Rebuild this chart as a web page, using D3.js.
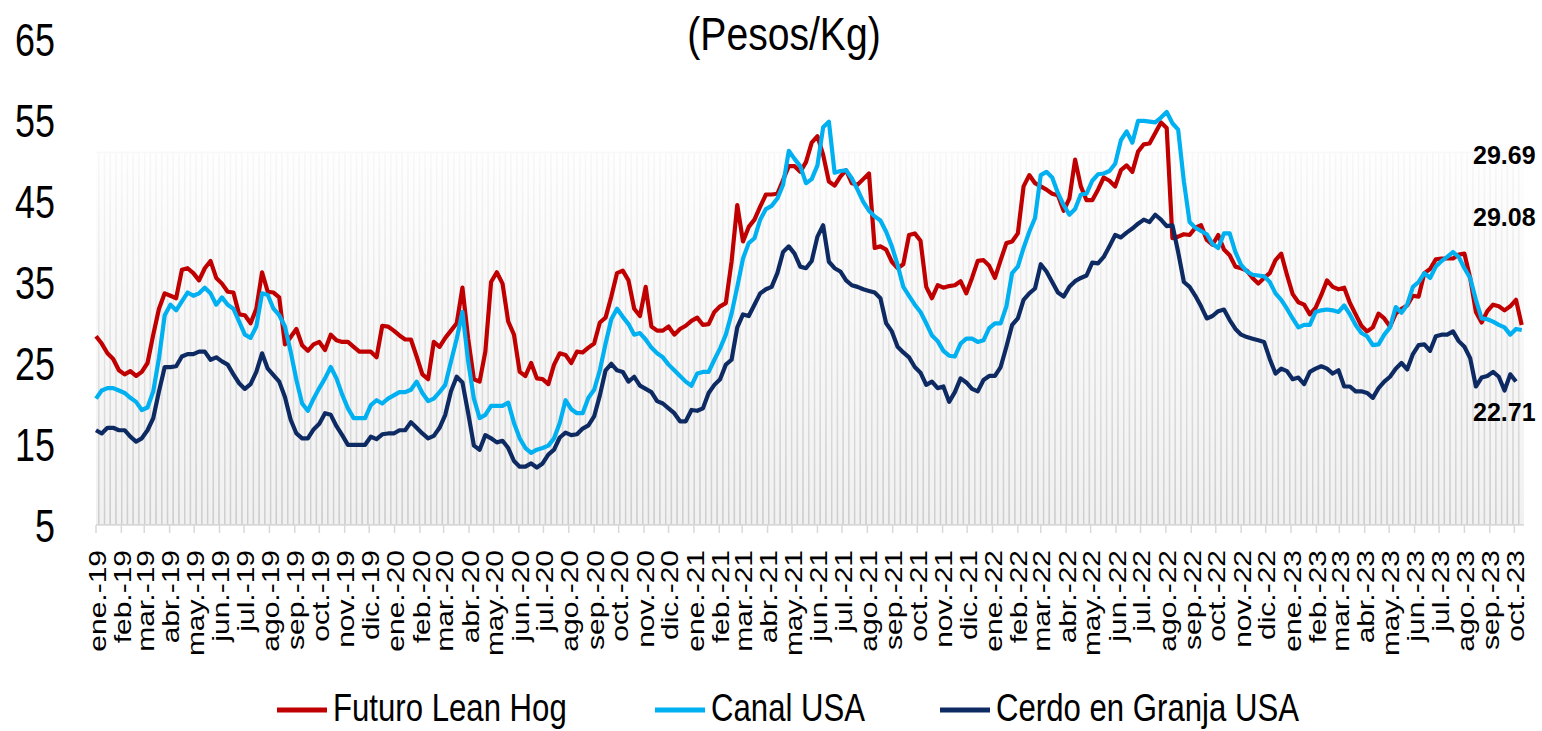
<!DOCTYPE html>
<html>
<head>
<meta charset="utf-8">
<script src="https://cdn.jsdelivr.net/npm/d3@7"></script>
<style>
  html, body { margin: 0; padding: 0; background: #fff; }
  svg { display: block; }
</style>
</head>
<body>
<div class="container-chart"></div>
<script>
/* --------------------------------------------------------- */
/* DATOS SEMANALES (Pesos/Kg)                                 */
/* --------------------------------------------------------- */
const fechaInicio = "2019-01-04";

const futuroLeanHog = [
  28.3, 27.4, 26.2, 25.5, 24.1, 23.6, 24.0, 23.4, 23.9, 25.0,
  28.5, 31.7, 33.6, 33.3, 33.0, 36.5, 36.7, 36.1, 35.2, 36.7,
  37.6, 35.5, 34.8, 33.8, 33.7, 31.0, 30.9, 29.9, 31.7, 36.2,
  33.8, 33.7, 33.1, 27.3, 28.2, 29.2, 27.2, 26.5, 27.3, 27.6,
  26.6, 28.5, 27.8, 27.6, 27.6, 27.0, 26.4, 26.4, 26.4, 25.7,
  29.6, 29.5, 29.0, 28.4, 27.9, 27.9, 25.8, 23.6, 23.0, 27.6,
  27.0, 28.1, 29.0, 29.9, 34.3, 28.0, 23.0, 22.7, 26.4, 35.0,
  36.2, 34.8, 30.1, 28.5, 23.9, 23.4, 25.0, 23.1, 23.0, 22.4,
  24.8, 26.2, 26.0, 25.0, 26.4, 26.3, 26.9, 27.4, 30.0, 30.6,
  33.2, 36.1, 36.4, 35.2, 31.7, 30.8, 34.4, 29.5, 29.0, 29.0,
  29.5, 28.5, 29.2, 29.6, 30.2, 30.6, 29.7, 29.8, 31.3, 32.0,
  32.4, 37.5, 44.5, 40.0, 41.8, 42.7, 44.3, 45.8, 45.8, 45.9,
  47.6, 49.3, 49.3, 48.6, 49.8, 52.2, 53.0, 50.7, 47.4, 46.9,
  48.0, 48.8, 47.2, 47.0, 47.7, 48.4, 39.2, 39.4, 39.0, 37.5,
  36.7, 37.2, 40.8, 41.0, 40.1, 34.4, 33.0, 34.6, 34.3, 34.5,
  34.6, 35.1, 33.6, 35.5, 37.6, 37.7, 37.0, 35.5, 37.7, 39.8,
  40.0, 41.0, 46.8, 48.2, 47.2, 46.8, 46.4, 45.9, 45.7, 43.8,
  45.3, 50.1, 46.8, 45.1, 45.1, 46.4, 47.9, 47.5, 46.8, 48.8,
  49.4, 48.6, 51.1, 52.0, 52.1, 53.4, 54.7, 54.0, 40.4, 40.6,
  40.9, 40.8, 41.7, 42.0, 40.2, 39.6, 40.8, 39.0, 38.3, 36.9,
  36.7, 36.4, 35.5, 34.8, 35.5, 36.1, 37.7, 38.5, 35.9, 33.5,
  32.5, 32.2, 31.0, 31.8, 33.4, 35.2, 34.4, 34.1, 34.3, 32.4,
  31.0, 29.6, 28.9, 29.4, 31.1, 30.5, 29.5, 31.1, 31.7, 32.1,
  33.3, 33.2, 36.1, 36.6, 37.8, 37.9, 37.9, 37.9, 38.4, 38.5,
  35.5, 31.3, 30.0, 31.4, 32.2, 32.0, 31.5, 32.0, 32.8, 29.69
];

const canalUSA = [
  20.6, 21.6, 21.9, 21.9, 21.6, 21.3, 20.7, 20.2, 19.2, 19.5,
  21.5, 25.6, 30.9, 32.2, 31.5, 32.6, 33.7, 33.3, 33.6, 34.3,
  33.6, 32.2, 33.1, 32.2, 31.7, 30.1, 28.5, 28.1, 29.5, 33.6,
  33.4, 31.7, 30.9, 29.5, 26.4, 22.9, 20.0, 19.1, 20.6, 21.9,
  23.1, 24.5, 23.1, 21.1, 19.4, 18.2, 18.2, 18.2, 19.8, 20.4,
  20.0, 20.6, 21.0, 21.4, 21.4, 21.7, 22.7, 21.3, 20.3, 20.6,
  21.4, 22.3, 25.2, 28.0, 31.3, 25.2, 20.6, 18.2, 18.6, 19.7,
  19.7, 19.7, 20.1, 17.6, 15.7, 14.5, 13.9, 14.3, 14.5, 14.8,
  15.7, 17.6, 20.4, 19.3, 18.8, 18.8, 20.7, 21.7, 24.1, 27.4,
  30.4, 31.7, 30.7, 29.8, 28.5, 28.7, 27.9, 26.9, 26.2, 25.7,
  24.8, 24.1, 23.4, 22.7, 22.2, 23.7, 23.9, 23.9, 25.4, 26.8,
  28.5, 31.1, 34.4, 37.9, 39.8, 40.4, 42.7, 44.0, 44.4, 45.3,
  47.0, 51.2, 50.2, 49.3, 47.2, 47.7, 49.4, 54.1, 54.8, 48.5,
  48.7, 48.8, 47.8, 46.4, 44.9, 43.8, 43.1, 42.6, 41.2, 39.4,
  37.1, 34.4, 33.3, 32.2, 31.3, 29.9, 28.4, 27.7, 26.5, 25.9,
  25.8, 27.4, 28.0, 28.0, 27.6, 27.8, 29.3, 29.9, 29.9, 32.0,
  36.1, 36.9, 39.2, 41.2, 42.9, 48.2, 48.6, 47.9, 46.0, 44.5,
  43.3, 44.0, 45.8, 45.9, 47.5, 48.3, 48.4, 48.7, 49.6, 52.5,
  53.6, 52.2, 54.9, 54.9, 54.8, 54.7, 55.3, 56.0, 54.6, 53.8,
  47.4, 42.4, 41.7, 41.3, 40.9, 39.7, 39.2, 41.0, 41.0, 38.7,
  37.1, 36.3, 35.9, 35.8, 35.7, 35.0, 33.6, 32.8, 31.7, 30.5,
  29.4, 29.7, 29.7, 31.3, 31.5, 31.6, 31.5, 31.3, 32.1, 31.0,
  29.7, 28.7, 28.3, 27.2, 27.3, 28.5, 29.4, 31.9, 31.2, 32.2,
  34.4, 35.0, 36.1, 35.5, 36.9, 37.6, 38.1, 38.7, 38.1, 36.7,
  35.5, 32.8, 30.5, 30.4, 30.1, 29.7, 29.4, 28.5, 29.2, 29.08
];

const cerdoGranjaUSA = [
  16.7, 16.3, 17.0, 17.0, 16.7, 16.7, 15.9, 15.3, 15.7, 16.7,
  18.2, 21.5, 24.5, 24.5, 24.6, 25.8, 26.1, 26.1, 26.4, 26.4,
  25.4, 25.7, 25.2, 24.8, 23.6, 22.5, 21.8, 22.4, 23.9, 26.2,
  24.3, 23.5, 22.7, 20.8, 18.0, 16.3, 15.7, 15.7, 16.8, 17.5,
  18.8, 18.6, 17.2, 16.1, 14.9, 14.9, 14.9, 14.9, 15.9, 15.6,
  16.2, 16.3, 16.3, 16.7, 16.7, 17.7, 17.0, 16.3, 15.7, 16.0,
  17.0, 18.6, 21.5, 23.3, 22.6, 18.8, 14.8, 14.3, 16.1, 15.7,
  15.2, 15.4, 14.5, 12.9, 12.2, 12.2, 12.6, 12.1, 12.6, 13.7,
  14.3, 15.8, 16.4, 16.1, 16.2, 16.9, 17.3, 18.4, 21.0, 24.1,
  24.9, 24.1, 23.9, 22.7, 23.3, 22.2, 21.8, 21.4, 20.3, 20.0,
  19.4, 18.8, 17.8, 17.8, 19.2, 19.1, 19.4, 21.3, 22.3, 23.0,
  24.8, 25.4, 29.4, 31.0, 30.8, 32.2, 33.6, 34.1, 34.4, 36.1,
  38.7, 39.4, 38.5, 36.9, 36.7, 37.6, 40.6, 42.0, 37.5, 36.7,
  36.3, 35.2, 34.6, 34.4, 34.1, 33.9, 33.7, 33.0, 29.9, 28.9,
  27.0, 26.3, 25.7, 24.5, 23.8, 22.3, 22.7, 21.9, 22.1, 20.2,
  21.4, 23.1, 22.6, 21.8, 21.5, 22.9, 23.4, 23.4, 24.5, 27.0,
  29.7, 30.5, 32.8, 33.6, 34.2, 37.2, 36.3, 35.0, 33.7, 33.2,
  34.4, 35.1, 35.5, 35.8, 37.4, 37.3, 38.1, 39.4, 40.8, 40.5,
  41.1, 41.6, 42.2, 42.7, 42.4, 43.3, 42.7, 41.9, 42.0, 38.7,
  35.0, 34.4, 33.3, 32.0, 30.5, 30.8, 31.4, 31.6, 30.3, 29.2,
  28.5, 28.2, 28.0, 27.8, 27.6, 25.5, 23.7, 24.3, 24.0, 23.0,
  23.2, 22.4, 23.9, 24.3, 24.6, 24.3, 23.7, 24.1, 22.1, 22.1,
  21.5, 21.5, 21.3, 20.7, 21.9, 22.7, 23.3, 24.3, 25.0, 24.2,
  26.1, 27.2, 27.3, 26.5, 28.3, 28.5, 28.5, 28.9, 27.7, 27.0,
  25.6, 22.1, 23.2, 23.4, 23.9, 23.3, 21.6, 23.6, 22.71, null
];

// valor de la franja sombreada de fondo
const franjaFondo = 51;

const ticksY = [5, 15, 25, 35, 45, 55, 65];
const mesesCortos = ["ene.", "feb.", "mar.", "abr.", "may.", "jun.", "jul.", "ago.", "sep.", "oct.", "nov.", "dic."];

const series = [
  { nombre: "Futuro Lean Hog", valores: futuroLeanHog, color: "#C00000", etiqueta: "29.69" },
  { nombre: "Canal USA", valores: canalUSA, color: "#00B0F0", etiqueta: "29.08" },
  { nombre: "Cerdo en Granja USA", valores: cerdoGranjaUSA, color: "#0E2A62", etiqueta: "22.71" }
];

/* --------------------------------------------------------- */
/* DIBUJO                                                     */
/* --------------------------------------------------------- */
const width = 1542, height = 731;
const plot = { left: 96, right: 1521.7, top: 39, bottom: 525 };
const fuente = "Liberation Sans, Arial, sans-serif";

const inicio = d3.isoParse(fechaInicio + "T00:00:00Z");
const fechas = futuroLeanHog.map((d, i) => d3.utcWeek.offset(inicio, i));

const x = d3.scaleUtc()
  .domain([fechas[0], fechas[fechas.length - 1]])
  .range([plot.left, plot.right]);

const y = d3.scaleLinear()
  .domain([5, 65])
  .range([plot.bottom, plot.top]);

const svg = d3.select(".container-chart")
  .append("svg")
  .attr("width", width)
  .attr("height", height);

const defs = svg.append("defs");

const gradRelleno = defs.append("linearGradient")
  .attr("id", "gradRelleno")
  .attr("gradientUnits", "userSpaceOnUse")
  .attr("x1", 0).attr("x2", 0)
  .attr("y1", y(franjaFondo)).attr("y2", y(5));
gradRelleno.append("stop").attr("offset", "0%").attr("stop-color", "#fefefe");
gradRelleno.append("stop").attr("offset", "100%").attr("stop-color", "#f1f1f1");

const gradBorde = defs.append("linearGradient")
  .attr("id", "gradBorde")
  .attr("gradientUnits", "userSpaceOnUse")
  .attr("x1", 0).attr("x2", 0)
  .attr("y1", y(franjaFondo)).attr("y2", y(5));
gradBorde.append("stop").attr("offset", "0%").attr("stop-color", "#f8f8f8");
gradBorde.append("stop").attr("offset", "100%").attr("stop-color", "#cdcdcd");

defs.append("clipPath").attr("id", "clipPlot")
  .append("rect")
  .attr("x", plot.left).attr("y", 0)
  .attr("width", plot.right + 2 - plot.left).attr("height", plot.bottom);

// columnas grises de fondo (una por semana)
const paso = x(fechas[1]) - x(fechas[0]);
svg.append("g")
  .attr("clip-path", "url(#clipPlot)")
  .selectAll("rect")
  .data(fechas)
  .enter()
  .append("rect")
  .attr("x", d => x(d) - paso / 2)
  .attr("y", y(franjaFondo))
  .attr("width", paso)
  .attr("height", y(5) - y(franjaFondo))
  .attr("fill", "url(#gradRelleno)")
  .attr("stroke", "url(#gradBorde)")
  .attr("stroke-width", 1.4);

// eje x
const ticksMes = d3.range(0, 58).map(k => d3.utcMonth.offset(inicio, k));
const ejeX = svg.append("g");
ejeX.append("line")
  .attr("x1", plot.left).attr("x2", plot.right + 2)
  .attr("y1", plot.bottom).attr("y2", plot.bottom)
  .attr("stroke", "#d9d9d9").attr("stroke-width", 1.5);
ejeX.selectAll(".tick")
  .data(ticksMes)
  .enter()
  .append("line")
  .attr("x1", d => x(d)).attr("x2", d => x(d))
  .attr("y1", plot.bottom).attr("y2", plot.bottom + 8)
  .attr("stroke", "#d9d9d9").attr("stroke-width", 1.5);
ejeX.selectAll(".lbl")
  .data(ticksMes)
  .enter()
  .append("text")
  .attr("transform", d => `translate(${x(d) + 1},550) rotate(-90) scale(1,0.8)`)
  .attr("text-anchor", "end")
  .attr("dy", "0.36em")
  .attr("font-family", fuente)
  .attr("font-size", 30)
  .attr("fill", "#000")
  .text(d => mesesCortos[d.getUTCMonth()] + "-" + String(d.getUTCFullYear()).slice(2));

// eje y (solo etiquetas, letra estrecha)
svg.append("g")
  .selectAll("text")
  .data(ticksY)
  .enter()
  .append("text")
  .attr("transform", d => `translate(55,${y(d)}) scale(0.78,1)`)
  .attr("dy", "0.36em")
  .attr("text-anchor", "end")
  .attr("font-family", fuente)
  .attr("font-size", 46)
  .attr("fill", "#000")
  .text(d => d);

// lineas
const linea = d3.line()
  .defined(d => d[1] != null)
  .x(d => x(d[0]))
  .y(d => y(d[1]));

svg.append("g")
  .selectAll("path")
  .data(series)
  .enter()
  .append("path")
  .attr("d", s => linea(fechas.map((f, i) => [f, s.valores[i]])))
  .attr("fill", "none")
  .attr("stroke", s => s.color)
  .attr("stroke-width", 4.2)
  .attr("stroke-linejoin", "round");

// ultimos valores
const etiquetasY = [164, 226, 421];
svg.append("g")
  .selectAll("text")
  .data(series)
  .enter()
  .append("text")
  .attr("x", 1473)
  .attr("y", (d, i) => etiquetasY[i])
  .attr("font-family", fuente)
  .attr("font-weight", "bold")
  .attr("font-size", 25)
  .attr("fill", "#000")
  .text(d => d.etiqueta);

// titulo
svg.append("text")
  .attr("transform", "translate(784,50) scale(0.85,1)")
  .attr("text-anchor", "middle")
  .attr("font-family", fuente)
  .attr("font-size", 46)
  .attr("fill", "#000")
  .text("(Pesos/Kg)");

// leyenda (ajustada para que no se corte abajo)
const leyendaX = [277, 655, 940];
const leyenda = svg.append("g")
  .selectAll("g")
  .data(series)
  .enter()
  .append("g")
  .attr("transform", (d, i) => `translate(${leyendaX[i]},0)`);
leyenda.append("line")
  .attr("x1", 0).attr("x2", 50)
  .attr("y1", 710).attr("y2", 710)
  .attr("stroke", d => d.color)
  .attr("stroke-width", 5);
leyenda.append("text")
  .attr("transform", "translate(56,721) scale(0.82,1)")
  .attr("font-family", fuente)
  .attr("font-size", 38)
  .attr("fill", "#000")
  .text(d => d.nombre);
</script>
</body>
</html>
